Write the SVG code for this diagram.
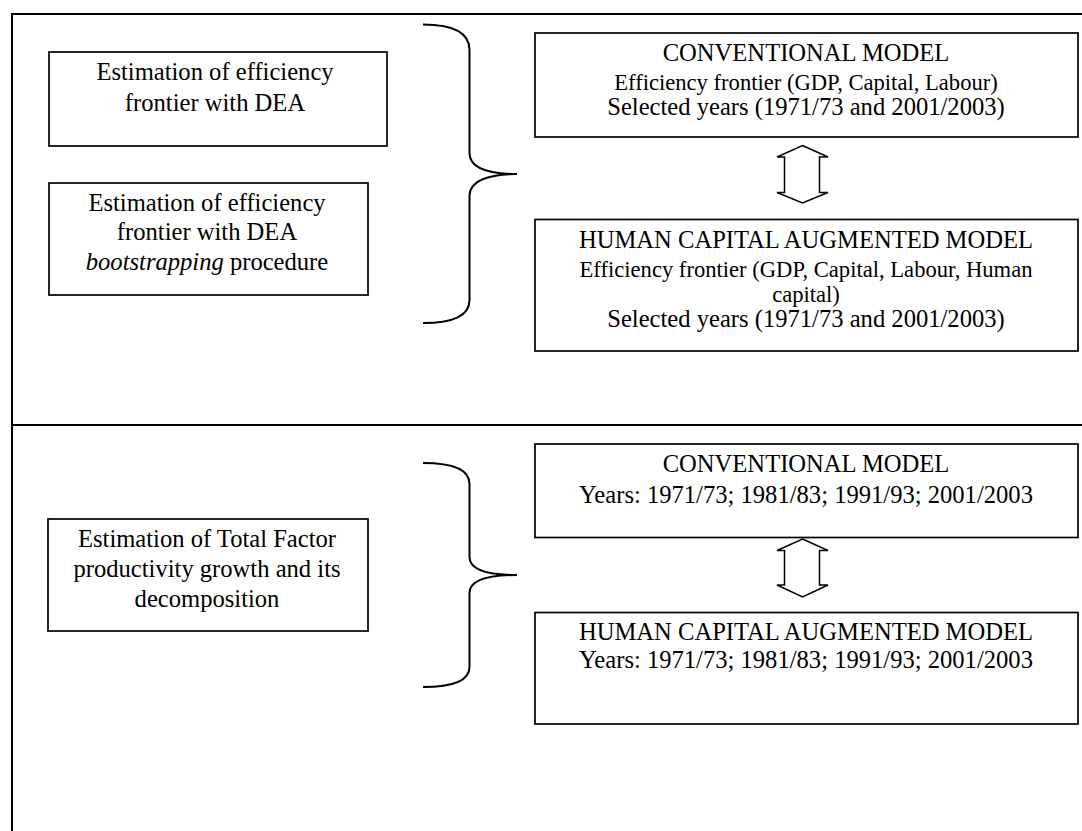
<svg xmlns="http://www.w3.org/2000/svg" width="1082" height="831" viewBox="0 0 1082 831">
<style>
.box{fill:#fff;stroke:#000;stroke-width:1.7}
.frame{fill:none;stroke:#000;stroke-width:2}
.brace{fill:none;stroke:#000;stroke-width:2}
.arr{fill:#fff;stroke:#000;stroke-width:1.5;stroke-linejoin:miter}
text{font-family:"Liberation Serif","Times New Roman",serif;fill:#000;text-anchor:middle;font-size:24.6px}
.s{font-size:22.6px}
</style>
<rect width="1082" height="831" fill="#fff"/>
<g id="frame">
<path class="frame" d="M12,831 V14 H1082"/>
<path class="frame" d="M12,425 H1082"/>
</g>
<g id="n1">
<rect class="box" x="49" y="52" width="338" height="94"/>
<text x="215" y="80">Estimation of efficiency</text>
<text x="215" y="110.5">frontier with DEA</text>
</g>
<g id="n2">
<rect class="box" x="49" y="183" width="319" height="112"/>
<text x="207" y="210.5">Estimation of efficiency</text>
<text x="207" y="240">frontier with DEA</text>
<text x="207" y="269.5"><tspan font-style="italic">bootstrapping</tspan> procedure</text>
</g>
<g id="n3">
<rect class="box" x="535" y="33" width="543" height="104"/>
<text x="806" y="61">CONVENTIONAL MODEL</text>
<text class="s" x="806" y="89.5">Efficiency frontier (GDP, Capital, Labour)</text>
<text x="806" y="114.5">Selected years (1971/73 and 2001/2003)</text>
</g>
<g id="n4">
<rect class="box" x="535" y="219.5" width="543" height="131.5"/>
<text x="806" y="248">HUMAN CAPITAL AUGMENTED MODEL</text>
<text class="s" x="806" y="277">Efficiency frontier (GDP, Capital, Labour, Human</text>
<text class="s" x="806" y="302">capital)</text>
<text x="806" y="327">Selected years (1971/73 and 2001/2003)</text>
</g>
<g id="n5">
<rect class="box" x="48" y="519" width="320" height="112"/>
<text x="207" y="546.5">Estimation of Total Factor</text>
<text x="207" y="576.5">productivity growth and its</text>
<text x="207" y="606.5">decomposition</text>
</g>
<g id="n6">
<rect class="box" x="535" y="444" width="543" height="93.5"/>
<text x="806" y="471.5">CONVENTIONAL MODEL</text>
<text x="806" y="503">Years: 1971/73; 1981/83; 1991/93; 2001/2003</text>
</g>
<g id="n7">
<rect class="box" x="535" y="612.5" width="543" height="111.5"/>
<text x="806" y="640">HUMAN CAPITAL AUGMENTED MODEL</text>
<text x="806" y="668">Years: 1971/73; 1981/83; 1991/93; 2001/2003</text>
</g>
<g id="connectors">
<path class="brace" d="M423,24.5 C452,24.5 469.5,32 469.5,50 V153 C469.5,168 488,174 517,174 C488,174 469.5,181 469.5,196 V300 C469.5,316 452,323 423,323"/>
<path class="brace" d="M423,463 C452,463 469.5,469 469.5,484 V557 C469.5,570 488,575 517,575 C488,575 469.5,580 469.5,593 V667 C469.5,681 452,687 423,687"/>
<path class="arr" d="M802.5,145.5 L828,157 H819.5 V192.5 H828 L802.5,203 L777,192.5 H784.5 V157 H777 Z"/>
<path class="arr" d="M802.5,539 L828,550.5 H819.5 V585 H828 L802.5,597 L777,585 H784.5 V550.5 H777 Z"/>
</g>
</svg>
